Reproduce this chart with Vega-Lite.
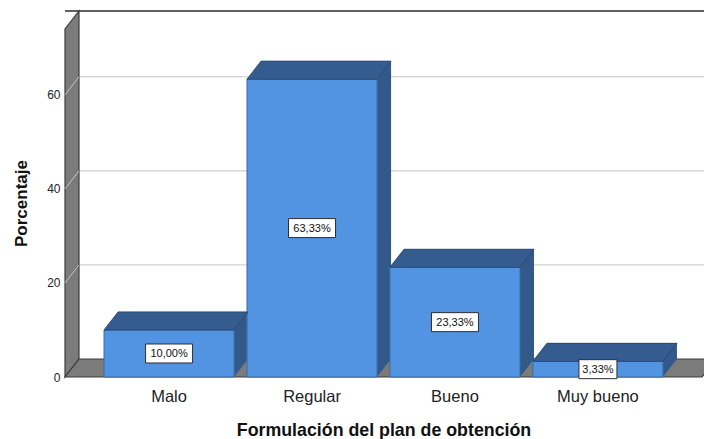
{
  "$schema": "https://vega.github.io/schema/vega-lite/v6.json",
  "autosize": {"type": "none"},
  "width": 637,
  "height": 348,
  "padding": {"left": 65, "top": 29, "right": 2, "bottom": 62},
  "background": "white",
  "config": {
    "view": {"stroke": null},
    "font": "Liberation Sans",
    "locale": {"number": {"decimal": ",", "thousands": ".", "grouping": [3], "currency": ["", "%"]}}
  },
  "data": {
    "values": [
      {"Categoria": "Malo", "Porcentaje": 10},
      {"Categoria": "Regular", "Porcentaje": 63.33},
      {"Categoria": "Bueno", "Porcentaje": 23.33},
      {"Categoria": "Muy bueno", "Porcentaje": 3.33}
    ]
  },
  "encoding": {
    "x": {
      "field": "Categoria",
      "type": "nominal",
      "sort": null,
      "title": "Formulación del plan de obtención",
      "scale": {"paddingInner": 0.09, "paddingOuter": 0.273},
      "axis": {
        "labelAngle": 0,
        "domain": false,
        "ticks": false,
        "tickSize": 0,
        "labelPadding": 11,
        "labelFontSize": 16.5,
        "labelColor": "#222222",
        "labelFont": "Liberation Sans",
        "titleFont": "Liberation Sans",
        "titleFontSize": 17.8,
        "titleFontWeight": "bold",
        "titleColor": "#111111",
        "titlePadding": 17
      }
    }
  },
  "layer": [
    {
      "layer": [
        {
          "data": {"values": [{}]},
          "mark": {"type": "rule", "color": "#5f5f5f", "strokeWidth": 2, "xOffset": 14, "x2Offset": 14, "yOffset": -18, "y2Offset": -18},
          "encoding": {"x": null, "y": {"datum": 74, "type": "quantitative", "title": "Porcentaje"}}
        },
        {
          "data": {"values": [{"g": 20}, {"g": 40}, {"g": 60}]},
          "mark": {"type": "rule", "color": "#c4c4c4", "strokeWidth": 1, "xOffset": 14, "x2Offset": 14, "yOffset": -18, "y2Offset": -18},
          "encoding": {"x": null, "y": {"field": "g", "type": "quantitative", "title": "Porcentaje"}}
        },
        {
          "data": {"values": [{}]},
          "mark": {"type": "point", "filled": true, "opacity": 1, "fill": "#7b7b7b", "stroke": "#3c3c3c", "strokeWidth": 1.2, "size": 640000,
            "shape": "M -0.79625 0 L -0.79625 -0.87 L -0.76125 -0.915 L -0.76125 -0.045 Z"},
          "encoding": {"x": null, "y": {"datum": 0, "type": "quantitative", "title": "Porcentaje"}}
        },
        {
          "data": {"values": [{"g": 20}, {"g": 40}, {"g": 60}]},
          "mark": {"type": "point", "filled": false, "opacity": 1, "stroke": "#c4c4c4", "strokeWidth": 1, "size": 640000,
            "shape": "M -0.79625 0 L -0.76125 -0.045"},
          "encoding": {"x": null, "y": {"field": "g", "type": "quantitative", "title": "Porcentaje"}}
        },
        {
          "data": {"values": [{}]},
          "mark": {"type": "point", "filled": true, "opacity": 1, "fill": "#7b7b7b", "stroke": "#3c3c3c", "strokeWidth": 1.2, "size": 462400,
            "shape": "M -0.936765 0 L 0.936765 0 L 0.977941 -0.052941 L -0.895588 -0.052941 Z"},
          "encoding": {"x": null, "y": {"datum": 0, "type": "quantitative", "title": "Porcentaje"}}
        },
        {
          "mark": {"type": "bar", "fill": "#33598b", "xOffset": 14, "x2Offset": 14, "yOffset": -18, "y2Offset": -18},
          "encoding": {"y": {"field": "Porcentaje", "type": "quantitative", "title": "Porcentaje"}}
        },
        {
          "mark": {"type": "point", "filled": true, "opacity": 1, "fill": "#33598b", "size": 25600,
            "shape": "M 0.8125 0 L 0.8125 -0.225 L 0.9875 -0.225 Z"},
          "encoding": {"y": {"datum": 0, "type": "quantitative", "title": "Porcentaje"}}
        },
        {
          "mark": {"type": "bar", "fill": "#5294e2", "stroke": "#3c6aa3", "strokeWidth": 1},
          "encoding": {
            "y": {
              "field": "Porcentaje",
              "type": "quantitative",
              "title": "Porcentaje",
              "scale": {"domain": [0, 74], "nice": false},
              "axis": {
                "values": [0, 20, 40, 60],
                "domain": false,
                "ticks": false,
                "tickSize": 0,
                "grid": false,
                "labelPadding": 5,
                "labelFontSize": 12,
                "labelColor": "#222222",
                "labelFont": "Liberation Sans",
                "titleFont": "Liberation Sans",
                "titleFontSize": 17,
                "titleFontWeight": "bold",
                "titleColor": "#111111",
                "titlePadding": 16
              }
            }
          }
        },
        {
          "mark": {"type": "point", "filled": true, "opacity": 1, "fill": "#355c8f", "stroke": "#2b4a74", "strokeWidth": 1, "size": 25600,
            "shape": "M -0.8125 0 L 0.8125 0 L 0.9875 -0.225 L -0.6375 -0.225 Z"},
          "encoding": {"y": {"field": "Porcentaje", "type": "quantitative", "title": "Porcentaje"}}
        }
      ]
    },
    {
      "layer": [
        {
          "mark": {"type": "point", "filled": true, "opacity": 1, "fill": "white", "stroke": "#2e2e2e", "strokeWidth": 1, "size": 2500},
          "encoding": {
            "y": {"field": "Porcentaje", "type": "quantitative", "scale": {"domain": [0, 148], "nice": false}, "axis": null},
            "shape": {
              "condition": {"test": "datum.Porcentaje < 10", "value": "M -0.76 -0.38 L 0.76 -0.38 L 0.76 0.38 L -0.76 0.38 Z"},
              "value": "M -0.94 -0.38 L 0.94 -0.38 L 0.94 0.38 L -0.94 0.38 Z"
            }
          }
        },
        {
          "mark": {"type": "text", "fontSize": 11, "font": "Liberation Sans", "color": "#111111", "baseline": "middle", "align": "center", "dy": 0.5},
          "encoding": {
            "y": {"field": "Porcentaje", "type": "quantitative", "scale": {"domain": [0, 148], "nice": false}, "axis": null},
            "text": {"field": "Porcentaje", "type": "quantitative", "format": "$.2f"}
          }
        }
      ]
    }
  ],
  "resolve": {"scale": {"y": "independent"}}
}
